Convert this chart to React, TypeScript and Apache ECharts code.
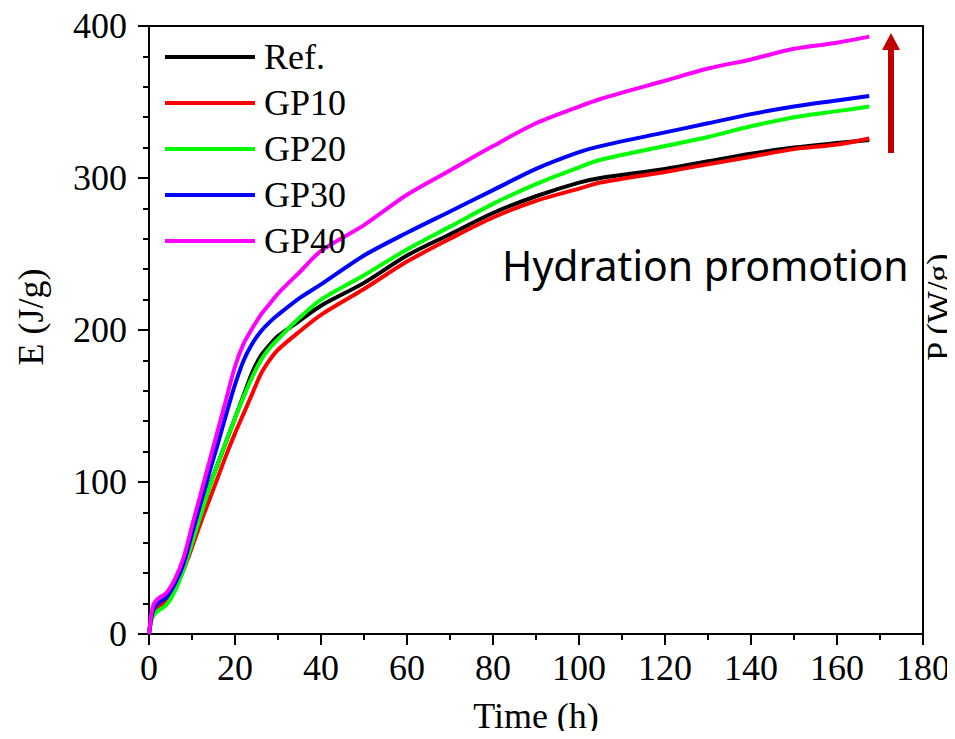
import React, { useEffect, useRef } from "react";
import * as echarts from "echarts";

const time = [0, 0.5, 1, 2, 4, 6, 8, 10, 12, 14, 16, 18, 20, 22, 24, 26, 28, 30, 35, 40, 50, 60, 70, 80, 90, 100, 105, 120, 130, 140, 150, 160, 167.5];
const refE = [0, 10, 14, 17, 21, 30, 43, 61, 79, 97, 112, 127, 142, 157, 172, 183, 190, 196, 206, 216, 231, 249, 263, 277, 288, 297, 300, 306, 311, 316, 320, 323, 325];
const gp10E = [0, 10, 15, 18, 22, 30, 42, 57, 73, 88, 103, 118, 132, 145, 158, 171, 180, 187, 199, 210, 227, 245, 260, 274, 285, 293, 297, 304, 309, 314, 319, 322, 326];
const gp20E = [0, 8, 12, 15, 19, 28, 42, 60, 78, 96, 112, 127, 142, 156, 169, 180, 188, 194, 208, 220, 236, 253, 268, 283, 296, 307, 312, 321, 327, 334, 340, 344, 347];
const gp30E = [0, 10, 16, 20, 24, 33, 46, 66, 86, 106, 125, 145, 164, 180, 191, 199, 205, 210, 221, 230, 249, 264, 278, 292, 306, 317, 321, 330, 336, 342, 347, 351, 354];
const gp40E = [0, 12, 19, 23, 27, 36, 50, 71, 92, 113, 134, 155, 176, 191, 201, 210, 217, 224, 238, 252, 269, 289, 305, 321, 336, 347, 352, 364, 372, 378, 385, 389, 393];

const seriesNames = ["Ref.", "GP10", "GP20", "GP30", "GP40"];
const seriesValues = [refE, gp10E, gp20E, gp30E, gp40E];
const seriesColors = ["#000000", "#ff0000", "#00ff00", "#0000ff", "#ff00ff"];

const serif = "Liberation Serif";

export default function App() {
  const ref = useRef<HTMLDivElement>(null);
  useEffect(() => {
    if (!ref.current) return;
    const chart = echarts.init(ref.current, null, { renderer: "svg" });
    const series = seriesNames.map((name, i) => ({
      name,
      type: "line",
      data: time.map((t, j) => [t, seriesValues[i][j]]),
      showSymbol: false,
      symbol: "none",
      smooth: 0.3,
      lineStyle: { color: seriesColors[i], width: 4 },
      itemStyle: { color: seriesColors[i] },
    }));
    chart.setOption({
      animation: false,
      backgroundColor: "#ffffff",
      grid: {
        left: 149,
        top: 26,
        right: 32,
        bottom: 100,
        show: true,
        borderColor: "#000",
        borderWidth: 2,
        backgroundColor: "transparent",
      },
      legend: {
        orient: "vertical",
        left: 165,
        top: 39,
        padding: 0,
        icon: "rect",
        itemWidth: 90,
        itemHeight: 4,
        itemGap: 10,
        textStyle: {
          fontFamily: serif,
          fontSize: 36,
          lineHeight: 36,
          color: "#000",
          padding: [0, 0, 0, 4],
        },
        data: seriesNames,
      },
      xAxis: {
        type: "value",
        min: 0,
        max: 180,
        interval: 20,
        name: "Time (h)",
        nameLocation: "middle",
        nameGap: 64,
        nameTextStyle: { fontFamily: serif, fontSize: 36, color: "#000" },
        axisLine: { show: true, onZero: false, lineStyle: { color: "#000", width: 2 } },
        axisTick: { show: true, inside: false, length: 11, lineStyle: { color: "#000", width: 2 } },
        minorTick: { show: true, splitNumber: 2, length: 6, lineStyle: { color: "#000", width: 2 } },
        axisLabel: { fontFamily: serif, fontSize: 36, color: "#000", margin: 16 },
        splitLine: { show: false },
      },
      yAxis: {
        type: "value",
        min: 0,
        max: 400,
        interval: 100,
        axisLine: { show: true, onZero: false, lineStyle: { color: "#000", width: 2 } },
        axisTick: { show: true, inside: false, length: 11, lineStyle: { color: "#000", width: 2 } },
        minorTick: { show: true, splitNumber: 5, length: 6, lineStyle: { color: "#000", width: 2 } },
        axisLabel: { fontFamily: serif, fontSize: 36, color: "#000", margin: 22 },
        splitLine: { show: false },
      },
      graphic: [
        {
          type: "text",
          x: 31,
          y: 317,
          rotation: Math.PI / 2,
          style: {
            text: "E (J/g)",
            fontFamily: serif,
            fontSize: 36,
            fill: "#000",
            align: "center",
            verticalAlign: "middle",
          },
        },
        {
          type: "text",
          x: 938,
          y: 307,
          rotation: Math.PI / 2,
          style: {
            text: "P (W/g)",
            fontFamily: serif,
            fontSize: 34,
            fill: "#000",
            align: "center",
            verticalAlign: "middle",
          },
        },
        {
          type: "text",
          x: 502,
          y: 265,
          style: {
            text: "Hydration promotion",
            fontFamily: "Noto Sans",
            fontSize: 41,
            fill: "#000",
            align: "left",
            verticalAlign: "middle",
          },
        },
        {
          type: "polygon",
          shape: {
            points: [
              [891, 33],
              [900, 50],
              [894, 50],
              [894, 153],
              [888, 153],
              [888, 50],
              [882, 50],
            ],
          },
          style: { fill: "#c00000" },
        },
      ],
      series,
    });
    return () => chart.dispose();
  }, []);
  return <div ref={ref} style={{ width: 955, height: 739, margin: -8 }} />;
}
